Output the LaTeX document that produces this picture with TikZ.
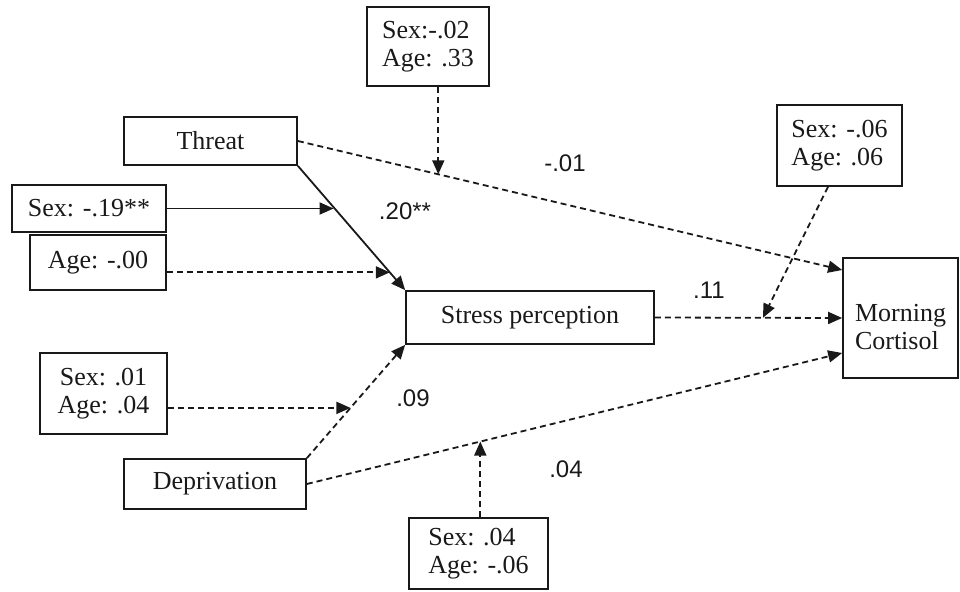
\documentclass[tikz,border=0pt]{standalone}
\usepackage{fontspec}
\setmainfont{Liberation Serif}
\newfontfamily\numfont{Liberation Sans}
\usetikzlibrary{arrows.meta,calc}
\definecolor{ink}{gray}{0.1}
\tikzset{
  box/.style={draw=ink, line width=1.7pt, rectangle, inner sep=0pt, text=ink,
    font=\fontsize{26}{28.5}\selectfont},
  boxtext/.style={inner sep=0pt, text=ink, font=\fontsize{26}{28.5}\selectfont},
  coef/.style={inner sep=0pt, text=ink, font=\numfont\fontsize{24}{26}\selectfont},
  link/.style={draw=ink, line width=1.8pt, -{Triangle[length=14pt,width=12pt]}},
  dlink/.style={link, dash pattern=on 6pt off 4pt},
}
\begin{document}
\begin{tikzpicture}[x=1pt,y=-1pt]
\useasboundingbox (0,0) rectangle (960,591);
% boxes
\node[box, minimum width=122pt, minimum height=79pt, align=left] (top) at (428,46.5) {Sex:-.02\\Age: .33};
\node[box, minimum width=173pt, minimum height=48pt] (threat) at (210.5,141) {Threat};
\node[box, minimum width=154pt, minimum height=47pt] (sexa) at (89,208.5) {Sex: -.19**};
\node[box, minimum width=136pt, minimum height=55pt] (agea) at (98,262.5) {Age: -.00};
\node[box, minimum width=248pt, minimum height=53pt] (stress) at (530,317.5) {Stress perception};
\node[box, minimum width=115pt, minimum height=120pt] (cort) at (900.5,318) {};
\node[boxtext, align=left] (cortt) at ([yshift=-9pt]cort.center) {Morning\\Cortisol};
\node[box, minimum width=125pt, minimum height=81pt, align=left] (sexc) at (839.5,145.5) {Sex: -.06\\Age: .06};
\node[box, minimum width=127pt, minimum height=81pt, align=center] (sexd) at (103.5,393.5) {Sex: .01\\Age: .04};
\node[box, minimum width=182pt, minimum height=50pt] (dep) at (215,484) {Deprivation};
\node[box, minimum width=139pt, minimum height=71pt, align=left] (bot) at (478.5,553.5) {Sex: .04\\Age: -.06};
% main paths
\draw[dlink] (threat.east) -- ([yshift=48pt]cort.west)
  coordinate[pos=0.258] (m1);
\draw[link] (threat.south east) -- (stress.north west)
  coordinate[pos=0.333] (m2) coordinate[pos=0.857] (m3);
\draw[dlink] (dep.north east) -- (stress.south west)
  coordinate[pos=0.4435] (m4);
\draw[dlink] (stress.east) -- (cort.west)
  coordinate[pos=0.577] (m5);
\draw[dlink] (dep.east) -- ([yshift=-35pt]cort.west)
  coordinate[pos=0.324] (m6);
% control arrows
\draw[dlink] (m1 |- top.south) -- (m1);
\draw[link] (sexa.east) -- (sexa.east -| m2);
\draw[dlink] (agea.east |- m3) -- (m3);
\draw[dlink] (sexd.east |- m4) -- (m4);
\draw[dlink] ([xshift=-11.5pt]sexc.south) -- (m5);
\draw[dlink] (m6 |- bot.north) -- (m6);
% coefficients
\node[coef] (c1) at (405,211) {.20**};
\node[coef] (c2) at (565,163) {-.01};
\node[coef] (c3) at (709,290) {.11};
\node[coef] (c4) at (413,398) {.09};
\node[coef] (c5) at (566,469) {.04};
\end{tikzpicture}
\end{document}
